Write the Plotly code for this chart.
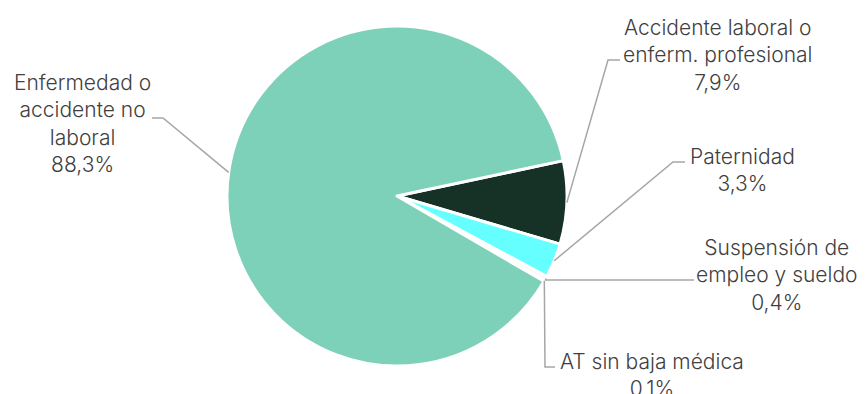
import math
import plotly.graph_objects as go

OFF = 8  # margen por defecto del <body> en la página
W, H = 867 - 2 * OFF, 394 - OFF

# Datos
categorias = ["Accidente laboral o<br>enferm. profesional", "Paternidad",
              "Suspensión de<br>empleo y sueldo", "AT sin baja médica",
              "Enfermedad o<br>accidente no<br>laboral"]
valores = [7.9, 3.3, 0.4, 0.1, 88.3]
etiquetas_pct = ["7,9%", "3,3%", "0,4%", "0,1%", "88,3%"]
colores = ["#163226", "#66FFFF", "#F2F2F2", "#E6E6E6", "#7DD1B9"]

# Geometría del pastel (px en la captura)
cx, cy, r = 397, 196, 170
rotacion = 78  # primera porción empieza a 12° sobre la horizontal

# Posición de cada etiqueta: texto (x, y), codo de la línea guía (x, y), fin de la guía
etiq_pos = [
    dict(tx=718, ty=55, ex=608, ey=60, fx=620),
    dict(tx=742, ty=170, ex=673, ey=162, fx=685),
    dict(tx=777, ty=275, ex=None, ey=280, fx=694),
    dict(tx=652, ty=375, ex=545, ey=367, fx=555),
    dict(tx=82, ty=124, ex=163, ey=118, fx=152, ang=172),
]


def px(x, y):
    return (x - OFF) / W, 1 - (y - OFF) / H


fig = go.Figure()
x0, y0 = px(cx - r, cy + r)
x1, y1 = px(cx + r, cy - r)
fig.add_trace(go.Pie(
    values=valores,
    labels=categorias,
    sort=False,
    direction="clockwise",
    rotation=rotacion,
    marker=dict(colors=colores, line=dict(color="white", width=3)),
    textinfo="none",
    hoverinfo="label+percent",
    showlegend=False,
    domain=dict(x=[x0, x1], y=[y0, y1]),
))

# Líneas guía y etiquetas
total = sum(valores)
inicio = 90 - rotacion
for cat, val, pct, p in zip(categorias, valores, etiquetas_pct, etiq_pos):
    ang_med = inicio - val / total * 360 / 2
    inicio -= val / total * 360
    ang = p.get("ang", ang_med)
    sx = cx + r * math.cos(math.radians(ang))
    sy = cy - r * math.sin(math.radians(ang))
    puntos = [(sx, sy)]
    if p["ex"] is not None:
        puntos.append((p["ex"], p["ey"]))
    else:
        puntos.append((sx, p["ey"]))
    puntos.append((p["fx"], p["ey"]))
    path = "M " + " L ".join(f"{px(x, y)[0]:.5f},{px(x, y)[1]:.5f}" for x, y in puntos)
    fig.add_shape(type="path", path=path, xref="paper", yref="paper",
                  line=dict(color="#A6A6A6", width=1.5))
    ax, ay = px(p["tx"], p["ty"])
    fig.add_annotation(x=ax, y=ay, xref="paper", yref="paper",
                       text=f"{cat}<br>{pct}", showarrow=False,
                       xanchor="center", yanchor="middle", align="center",
                       font=dict(family="Inter", size=21, weight=300, color="#404040"))

fig.update_layout(
    width=W, height=H,
    margin=dict(l=0, r=0, t=0, b=0),
    paper_bgcolor="white",
    plot_bgcolor="white",
)

fig.write_html("out.html")
